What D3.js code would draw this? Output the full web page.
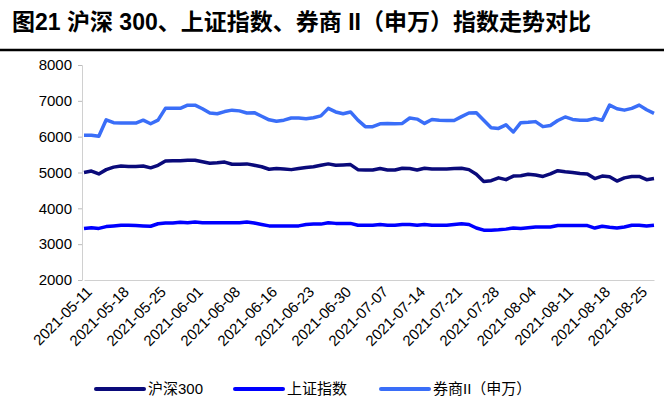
<!DOCTYPE html><html><head><meta charset="utf-8"><script src="https://cdn.jsdelivr.net/npm/d3@7"></script>
<style>body{margin:0;background:#fff}text{font-family:Arial,"Liberation Sans","Noto Sans CJK SC",sans-serif}</style></head><body><svg id="c" width="664" height="407"></svg><script>
const dates=["2021-05-11","2021-05-12","2021-05-13","2021-05-14","2021-05-17","2021-05-18","2021-05-19","2021-05-20","2021-05-21","2021-05-24","2021-05-25","2021-05-26","2021-05-27","2021-05-28","2021-05-31","2021-06-01","2021-06-02","2021-06-03","2021-06-04","2021-06-07","2021-06-08","2021-06-09","2021-06-10","2021-06-11","2021-06-15","2021-06-16","2021-06-17","2021-06-18","2021-06-21","2021-06-22","2021-06-23","2021-06-24","2021-06-25","2021-06-28","2021-06-29","2021-06-30","2021-07-01","2021-07-02","2021-07-05","2021-07-06","2021-07-07","2021-07-08","2021-07-09","2021-07-12","2021-07-13","2021-07-14","2021-07-15","2021-07-16","2021-07-19","2021-07-20","2021-07-21","2021-07-22","2021-07-23","2021-07-26","2021-07-27","2021-07-28","2021-07-29","2021-07-30","2021-08-02","2021-08-03","2021-08-04","2021-08-05","2021-08-06","2021-08-09","2021-08-10","2021-08-11","2021-08-12","2021-08-13","2021-08-16","2021-08-17","2021-08-18","2021-08-19","2021-08-20","2021-08-23","2021-08-24","2021-08-25","2021-08-26","2021-08-27"];
const tickLabels=["2021-05-11","2021-05-18","2021-05-25","2021-06-01","2021-06-08","2021-06-16","2021-06-23","2021-06-30","2021-07-07","2021-07-14","2021-07-21","2021-07-28","2021-08-04","2021-08-11","2021-08-18","2021-08-25"];
const yTicks=[2000,3000,4000,5000,6000,7000,8000];
const hs300=[5000,5040,4960,5080,5150,5180,5170,5170,5180,5130,5200,5320,5330,5330,5340,5340,5300,5260,5270,5290,5230,5230,5240,5200,5160,5090,5110,5100,5080,5110,5140,5160,5200,5240,5200,5210,5220,5080,5070,5070,5110,5070,5070,5120,5110,5070,5120,5100,5100,5100,5110,5120,5080,4950,4750,4770,4850,4800,4900,4910,4950,4930,4890,4960,5050,5020,5000,4970,4960,4830,4900,4880,4760,4850,4890,4890,4800,4830];
const sse=[3440,3460,3440,3490,3510,3530,3530,3520,3510,3500,3570,3590,3590,3610,3600,3620,3600,3600,3600,3600,3600,3600,3620,3590,3550,3510,3510,3510,3510,3510,3550,3560,3560,3600,3580,3580,3580,3530,3530,3530,3550,3530,3530,3550,3550,3530,3550,3530,3530,3530,3550,3570,3550,3450,3390,3390,3400,3420,3450,3440,3460,3480,3480,3480,3520,3520,3520,3520,3520,3450,3500,3470,3450,3480,3530,3530,3510,3530];
const broker=[6040,6040,6010,6470,6390,6380,6380,6380,6460,6360,6460,6790,6790,6790,6880,6880,6780,6660,6640,6700,6740,6720,6660,6670,6570,6470,6430,6460,6520,6520,6500,6530,6580,6790,6690,6640,6690,6460,6280,6280,6360,6370,6360,6370,6520,6490,6370,6480,6460,6450,6450,6560,6660,6670,6460,6250,6230,6330,6130,6390,6400,6420,6280,6310,6450,6550,6480,6460,6460,6510,6460,6880,6780,6740,6790,6880,6750,6650];
const series=[{name:"沪深300",v:hs300,c:"#0a0a7a"},{name:"上证指数",v:sse,c:"#0000ff"},{name:"券商II（申万）",v:broker,c:"#3a6ef8"}];
const svg=d3.select("#c");
svg.append("text").attr("x",12).attr("y",30).attr("font-size",23).attr("font-weight","bold").attr("font-family","'Noto Sans CJK SC',sans-serif").text("图21 沪深 300、上证指数、券商 II（申万）指数走势对比");
svg.append("line").attr("x1",0).attr("x2",664).attr("y1",50).attr("y2",50).attr("stroke","#000").attr("stroke-width",2.5);
const x=d3.scalePoint().domain(dates).range([84,654]);
const y=d3.scaleLinear().domain([2000,8000]).range([280,65]);
const ya=svg.append("g").attr("transform","translate(82,0)").call(d3.axisLeft(y).tickValues(yTicks).tickFormat(d3.format("d")).tickSize(4).tickPadding(6));
ya.selectAll("text").attr("font-size",15).attr("fill","#000");
ya.select(".domain").attr("stroke","#d0d0d0");ya.selectAll(".tick line").attr("stroke","#bbb");
const xa=svg.append("g").attr("transform","translate(0,280)").call(d3.axisBottom(x).tickValues(tickLabels).tickSize(0).tickPadding(6));
xa.select(".domain").attr("stroke","#d0d0d0");
xa.selectAll("text").attr("font-size",15).attr("fill","#000").attr("text-anchor","end").attr("transform","rotate(-45)").attr("dx","-0.2em").attr("dy","0.6em");
const line=d3.line().x((d,i)=>x(dates[i])).y(d=>y(d));
series.forEach(s=>svg.append("path").attr("d",line(s.v)).attr("fill","none").attr("stroke",s.c).attr("stroke-width",3.5).attr("stroke-linejoin","round"));
const lx=[96,235,381];
series.forEach((s,i)=>{const g=svg.append("g").attr("transform",`translate(${lx[i]},389)`);
g.append("line").attr("x1",0).attr("x2",48).attr("stroke",s.c).attr("stroke-width",4).attr("stroke-linecap","round");
g.append("text").attr("x",52).attr("y",5).attr("font-size",15).text(s.name);});
</script></body></html>
